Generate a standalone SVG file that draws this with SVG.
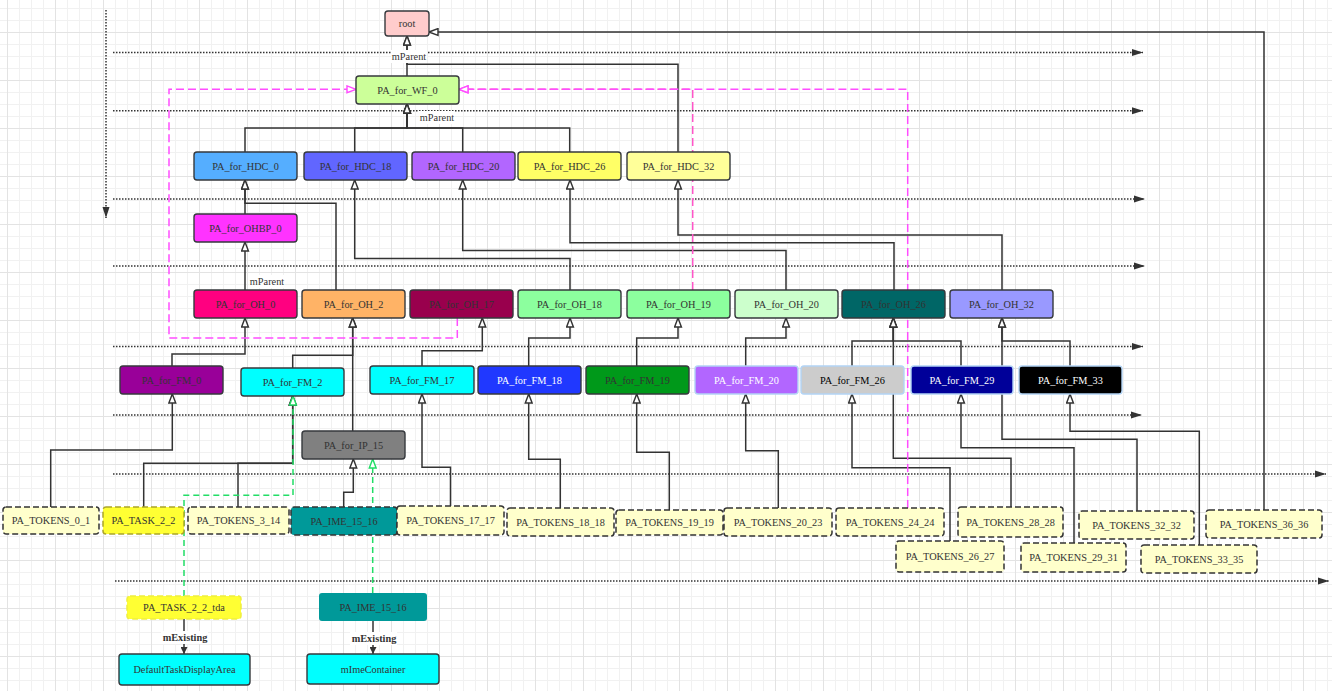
<svg xmlns="http://www.w3.org/2000/svg" width="1332" height="691" viewBox="0 0 1332 691">
<defs>
<pattern id="grid" width="48" height="48" patternUnits="userSpaceOnUse" x="7" y="32">
<path d="M12.5,0V48M24.5,0V48M36.5,0V48M0,12.5H48M0,24.5H48M0,36.5H48" stroke="#f1f1f1" stroke-width="1" fill="none"/>
<path d="M0.5,0V48M0,0.5H48" stroke="#e3e3e3" stroke-width="1" fill="none"/>
</pattern>
<marker id="ho" viewBox="0 0 12 10" refX="11" refY="5" markerWidth="11" markerHeight="9" orient="auto" markerUnits="userSpaceOnUse">
<path d="M1,1.2 L11,5 L1,8.8 z" fill="#fff" stroke="#333" stroke-width="1.6"/>
</marker>
<marker id="hg" viewBox="0 0 12 10" refX="11" refY="5" markerWidth="11" markerHeight="9" orient="auto" markerUnits="userSpaceOnUse">
<path d="M1,1.2 L11,5 L1,8.8 z" fill="#fff" stroke="#22dd66" stroke-width="1.6"/>
</marker>
<marker id="hp" viewBox="0 0 12 10" refX="11" refY="5" markerWidth="11" markerHeight="9" orient="auto" markerUnits="userSpaceOnUse">
<path d="M1,1.2 L11,5 L1,8.8 z" fill="#fff" stroke="#ff4dff" stroke-width="1.6"/>
</marker>
<marker id="fa" viewBox="0 0 11 8" refX="11" refY="4" markerWidth="11" markerHeight="8" orient="auto" markerUnits="userSpaceOnUse">
<path d="M0,0.5 L11,4 L0,7.5 z" fill="#333"/>
</marker>
<marker id="fs" viewBox="0 0 7 7" refX="7" refY="3.5" markerWidth="7" markerHeight="7" orient="auto" markerUnits="userSpaceOnUse">
<path d="M0,0 L7,3.5 L0,7 z" fill="#333"/>
</marker>
<style>
.n rect{stroke:#36393d;stroke-width:1.4}
.t{font-family:"Liberation Serif","Times New Roman",serif;font-size:10.3px;fill:#333;text-anchor:middle;dominant-baseline:central}
.w{fill:#fff}
.k{fill:#000}
.tok rect{fill:#ffffcc;stroke:#333;stroke-width:1.5;stroke-dasharray:6 3}
.lb{stroke:#b3d4f5 !important}
.e path{fill:none;stroke:#333;stroke-width:1.5;marker-end:url(#ho)}
.d{fill:none;stroke:#333;stroke-width:1.5;stroke-dasharray:1.5 1.5;marker-end:url(#fa)}
.pk{fill:none;stroke:#ff4dff;stroke-width:1.5;stroke-dasharray:8 4;marker-end:url(#hp)}
.gr{fill:none;stroke:#22dd66;stroke-width:1.5;stroke-dasharray:6 4;marker-end:url(#hg)}
.lab{font-family:"Liberation Serif","Times New Roman",serif;font-size:10.3px;fill:#333;text-anchor:middle;dominant-baseline:central}
.bold{font-weight:bold}
</style>
</defs>
<rect x="0" y="0" width="1332" height="691" fill="#fff"/>
<rect x="0" y="0" width="1332" height="691" fill="url(#grid)"/>

<g id="layers">
<path class="d" d="M113,52.5H1143"/>
<path class="d" d="M113,110.7H1143"/>
<path class="d" d="M113,199H1145"/>
<path class="d" d="M113,266H1145"/>
<path class="d" d="M113,346.5H1143"/>
<path class="d" d="M113,415H1142"/>
<path class="d" d="M113,474H1326"/>
<path class="d" d="M115,581H1329"/>
<path class="d" d="M106,10V218"/>
</g>

<g id="connectors">
<g class="e">
<path d="M407,76V36"/>
<path d="M678,152V64.3H407V36"/>
<path d="M1264,510V32H429"/>
<path d="M245,152V128H407V104"/>
<path d="M354.7,152V128H407V104"/>
<path d="M462.7,152V128H407V104"/>
<path d="M569.7,152V128H407V104"/>
<path d="M245,214V180"/>
<path d="M245,290V242"/>
<path d="M336,290V203.3H245V180"/>
<path d="M570,290V258.5H354.7V180"/>
<path d="M786,290V250.5H462.7V180"/>
<path d="M894,290V242.7H570V180"/>
<path d="M1002,290V235H678V180"/>
<path d="M172,366V354H245V318"/>
<path d="M292.7,368V355.3H352.7V318"/>
<path d="M352.7,431V318"/>
<path d="M422,366V350.7H482.3V318"/>
<path d="M528.7,366V338H570V318"/>
<path d="M636.7,366V338H678V318"/>
<path d="M745.7,366V338H786V318"/>
<path d="M852,366V341H893.3V318"/>
<path d="M961,366V341H893.3V318"/>
<path d="M1070,366V341H1002V318"/>
<path d="M1011,507V458.3H893.3V318"/>
<path d="M1137,511V439.3H1002V318"/>
<path d="M50.7,507V450H172.3V394"/>
<path d="M143.7,507V463.3H292.7V396"/>
<path d="M238,507V463.3H292.7V396"/>
<path d="M343.7,507V492.3H353.3V459"/>
<path d="M450.5,506V467.3H422V394"/>
<path d="M560.3,508V459.3H528.7V394"/>
<path d="M669.3,510V452.3H636.7V394"/>
<path d="M778.3,508V450.7H745.7V394"/>
<path d="M950,541V467.7H852V394"/>
<path d="M1074,543V447.7H961V394"/>
<path d="M1199.3,545V431.3H1070V394"/>
</g>
<path class="pk" d="M457.3,318V338H169V89.3H356"/>
<path class="pk" d="M692.7,290V89.3H459" style="stroke:#ff55c8"/>
<path class="pk" d="M907.7,508V89.3H459"/>
<path class="gr" d="M184,596V495.3H293V396"/>
<path class="gr" d="M372.7,593V459"/>
<path d="M184,619V654" fill="none" stroke="#333" stroke-width="1.5" marker-end="url(#fs)"/>
<path d="M373,621V654" fill="none" stroke="#333" stroke-width="1.5" marker-end="url(#fs)"/>
<rect x="391" y="50" width="36" height="13" fill="#fff"/>
<text class="lab" x="409" y="56.5">mParent</text>
<rect x="419" y="111" width="36" height="13" fill="#fff"/>
<text class="lab" x="437" y="117.5">mParent</text>
<rect x="249" y="275" width="36" height="13" fill="#fff"/>
<text class="lab" x="267" y="281.5">mParent</text>
<rect x="161" y="631" width="47" height="13" fill="#fff"/>
<text class="lab bold" x="185" y="637.5">mExisting</text>
<rect x="350" y="632" width="47" height="13" fill="#fff"/>
<text class="lab bold" x="374" y="638.5">mExisting</text>
</g>

<g id="root" class="n"><rect x="385" y="11" width="44" height="25" rx="3" fill="#ffcccc"/><text class="t" x="407" y="23.5">root</text></g>
<g id="PA_for_WF_0" class="n"><rect x="356" y="76" width="103" height="28" rx="3" fill="#ccff99"/><text class="t" x="407.5" y="90">PA_for_WF_0</text></g>

<g id="PA_for_HDC_0" class="n"><rect x="194" y="152" width="103" height="28" rx="3" fill="#55aeff"/><text class="t" x="245.5" y="166">PA_for_HDC_0</text></g>
<g id="PA_for_HDC_18" class="n"><rect x="304" y="152" width="103" height="28" rx="3" fill="#6166ff"/><text class="t" x="355.5" y="166">PA_for_HDC_18</text></g>
<g id="PA_for_HDC_20" class="n"><rect x="412" y="152" width="103" height="28" rx="3" fill="#b266ff"/><text class="t" x="463.5" y="166">PA_for_HDC_20</text></g>
<g id="PA_for_HDC_26" class="n"><rect x="518" y="152" width="103" height="28" rx="3" fill="#ffff66"/><text class="t" x="569.5" y="166">PA_for_HDC_26</text></g>
<g id="PA_for_HDC_32" class="n"><rect x="627" y="152" width="103" height="28" rx="3" fill="#ffff99"/><text class="t" x="678.5" y="166">PA_for_HDC_32</text></g>

<g id="PA_for_OHBP_0" class="n"><rect x="194" y="214" width="103" height="28" rx="3" fill="#ff33ff"/><text class="t" x="245.5" y="228">PA_for_OHBP_0</text></g>

<g id="PA_for_OH_0" class="n"><rect x="194" y="290" width="103" height="28" rx="3" fill="#ff0080"/><text class="t" x="245.5" y="304">PA_for_OH_0</text></g>
<g id="PA_for_OH_2" class="n"><rect x="302" y="290" width="103" height="28" rx="3" fill="#ffb366"/><text class="t" x="353.5" y="304">PA_for_OH_2</text></g>
<g id="PA_for_OH_17" class="n"><rect x="410" y="290" width="103" height="28" rx="3" fill="#99004d"/><text class="t" x="461.5" y="304">PA_for_OH_17</text></g>
<g id="PA_for_OH_18" class="n"><rect x="518" y="290" width="103" height="28" rx="3" fill="#8cff9e"/><text class="t" x="569.5" y="304">PA_for_OH_18</text></g>
<g id="PA_for_OH_19" class="n"><rect x="627" y="290" width="103" height="28" rx="3" fill="#8cff9e"/><text class="t" x="678.5" y="304">PA_for_OH_19</text></g>
<g id="PA_for_OH_20" class="n"><rect x="735" y="290" width="103" height="28" rx="3" fill="#ccffcc"/><text class="t" x="786.5" y="304">PA_for_OH_20</text></g>
<g id="PA_for_OH_26" class="n"><rect x="842" y="290" width="103" height="28" rx="3" fill="#006666"/><text class="t" x="893.5" y="304">PA_for_OH_26</text></g>
<g id="PA_for_OH_32" class="n"><rect x="950" y="290" width="103" height="28" rx="3" fill="#9999ff"/><text class="t" x="1001.5" y="304">PA_for_OH_32</text></g>

<g id="PA_for_FM_0" class="n"><rect x="120" y="366" width="103" height="28" rx="3" fill="#990099"/><text class="t" x="171.5" y="380">PA_for_FM_0</text></g>
<g id="PA_for_FM_2" class="n"><rect x="241" y="368" width="103" height="28" rx="3" fill="#00ffff"/><text class="t" x="292.5" y="382">PA_for_FM_2</text></g>
<g id="PA_for_FM_17" class="n"><rect x="370" y="366" width="104" height="28" rx="3" fill="#00ffff"/><text class="t" x="422" y="380">PA_for_FM_17</text></g>
<g id="PA_for_FM_18" class="n"><rect x="478" y="366" width="103" height="28" rx="3" fill="#2038ff"/><text class="t w" x="529.5" y="380">PA_for_FM_18</text></g>
<g id="PA_for_FM_19" class="n"><rect x="586" y="366" width="103" height="28" rx="3" fill="#00991a"/><text class="t" x="637.5" y="380">PA_for_FM_19</text></g>
<g id="PA_for_FM_20" class="n"><rect class="lb" x="695" y="366" width="103" height="28" rx="3" fill="#b266ff"/><text class="t w" x="746.5" y="380">PA_for_FM_20</text></g>
<g id="PA_for_FM_26" class="n"><rect class="lb" x="801" y="366" width="103" height="28" rx="3" fill="#cccccc"/><text class="t k" x="852.5" y="380">PA_for_FM_26</text></g>
<g id="PA_for_FM_29" class="n"><rect class="lb" x="911" y="366" width="102" height="28" rx="3" fill="#000099"/><text class="t w" x="962" y="380">PA_for_FM_29</text></g>
<g id="PA_for_FM_33" class="n"><rect class="lb" x="1019" y="366" width="103" height="28" rx="3" fill="#000000"/><text class="t w" x="1070.5" y="380">PA_for_FM_33</text></g>

<g id="PA_for_IP_15" class="n"><rect x="302" y="431" width="103" height="28" rx="3" fill="#808080"/><text class="t" x="353.5" y="445">PA_for_IP_15</text></g>

<g id="PA_TOKENS_0_1" class="tok"><rect x="3" y="507" width="96" height="27" rx="3"/><text class="t" x="51" y="520.5">PA_TOKENS_0_1</text></g>
<g id="PA_TASK_2_2"><rect x="103" y="507" width="81" height="27" rx="3" fill="#ffff33" stroke="#aba52a" stroke-width="1.5" stroke-dasharray="6 3"/><text class="t" x="143.5" y="520.5">PA_TASK_2_2</text></g>
<g id="PA_TOKENS_3_14" class="tok"><rect x="188" y="507" width="101" height="27" rx="3"/><text class="t" x="238.5" y="520.5">PA_TOKENS_3_14</text></g>
<g id="PA_IME_15_16" class="tok"><rect x="291" y="507" width="106" height="28" rx="3" style="fill:#009999"/><text class="t" x="344" y="521">PA_IME_15_16</text></g>
<g id="PA_TOKENS_17_17" class="tok"><rect x="397" y="506" width="107" height="29" rx="3"/><text class="t" x="450.5" y="520.5">PA_TOKENS_17_17</text></g>
<g id="PA_TOKENS_18_18" class="tok"><rect x="507" y="508" width="107" height="28" rx="3"/><text class="t" x="560.5" y="522">PA_TOKENS_18_18</text></g>
<g id="PA_TOKENS_19_19" class="tok"><rect x="616" y="510" width="107" height="25" rx="3"/><text class="t" x="669.5" y="522.5">PA_TOKENS_19_19</text></g>
<g id="PA_TOKENS_20_23" class="tok"><rect x="724" y="508" width="108" height="28" rx="3"/><text class="t" x="778" y="522">PA_TOKENS_20_23</text></g>
<g id="PA_TOKENS_24_24" class="tok"><rect x="836" y="508" width="108" height="28" rx="3"/><text class="t" x="890" y="522">PA_TOKENS_24_24</text></g>
<g id="PA_TOKENS_28_28" class="tok"><rect x="958" y="507" width="105" height="30" rx="3"/><text class="t" x="1010.5" y="522">PA_TOKENS_28_28</text></g>
<g id="PA_TOKENS_32_32" class="tok"><rect x="1079" y="511" width="115" height="28" rx="3"/><text class="t" x="1136.5" y="525">PA_TOKENS_32_32</text></g>
<g id="PA_TOKENS_36_36" class="tok"><rect x="1206" y="510" width="116" height="28" rx="3"/><text class="t" x="1264" y="524">PA_TOKENS_36_36</text></g>
<g id="PA_TOKENS_26_27" class="tok"><rect x="896" y="541" width="108" height="31" rx="3"/><text class="t" x="950" y="556.5">PA_TOKENS_26_27</text></g>
<g id="PA_TOKENS_29_31" class="tok"><rect x="1021" y="543" width="105" height="29" rx="3"/><text class="t" x="1073.5" y="557.5">PA_TOKENS_29_31</text></g>
<g id="PA_TOKENS_33_35" class="tok"><rect x="1141" y="545" width="116" height="28" rx="3"/><text class="t" x="1199" y="559">PA_TOKENS_33_35</text></g>

<g id="PA_TASK_2_2_tda"><rect x="127" y="596" width="114" height="23" rx="3" fill="#ffff33" stroke="#eeee40" stroke-width="1.5" stroke-dasharray="6 3"/><text class="t" x="184" y="607.5">PA_TASK_2_2_tda</text></g>
<g id="PA_IME_15_16_b"><rect x="319" y="593" width="108" height="28" rx="3" fill="#009999"/><text class="t" x="373" y="607">PA_IME_15_16</text></g>
<g id="DefaultTaskDisplayArea" class="n"><rect x="119" y="654" width="131" height="31" rx="3" fill="#00ffff"/><text class="t" x="184.5" y="669.5">DefaultTaskDisplayArea</text></g>
<g id="mImeContainer" class="n"><rect x="307" y="654" width="132" height="30" rx="3" fill="#00ffff"/><text class="t" x="373" y="669">mImeContainer</text></g>
</svg>
